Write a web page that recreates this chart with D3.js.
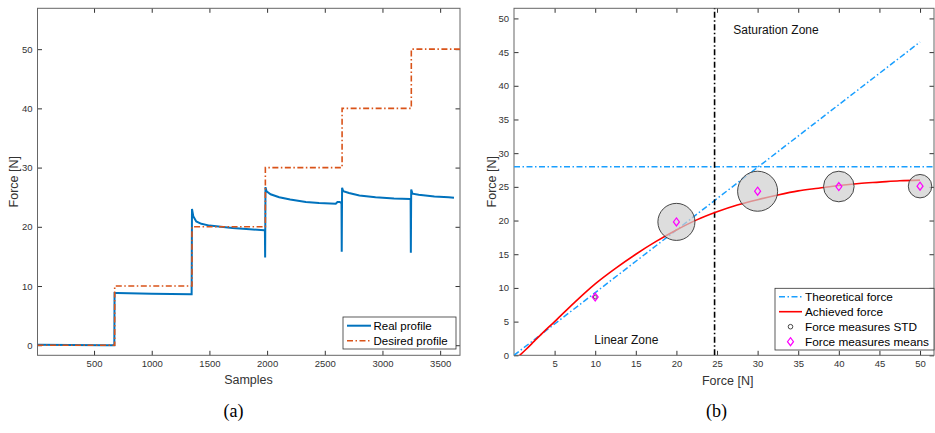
<!DOCTYPE html>
<html>
<head>
<meta charset="utf-8">
<script src="https://cdn.jsdelivr.net/npm/d3@7"></script>
<style>
  body { margin: 0; background: #fff; }
  svg { display: block; font-family: "Liberation Sans", Arial, sans-serif; }
  .tick text { fill: #333; font-size: 9.5px; }
</style>
</head>
<body>
<svg id="canvas" width="935" height="433"></svg>
<script>
// ---- (a) force profile over samples ----
const sampleTicks = [500, 1000, 1500, 2000, 2500, 3000, 3500];
const forceTicksA = [0, 10, 20, 30, 40, 50];

const desiredStart = [10, 679, 1349, 1985, 2650, 3250, 3672];
const desiredLevel = [0, 10, 20, 30, 40, 50, 50];

const realSample = [10, 300, 600, 676, 678, 700, 1000, 1340, 1346, 1349, 1360, 1386, 1430, 1501, 1600, 1700, 1850, 1975, 1981,
  1983, 1986, 1995, 2030, 2105, 2200, 2336, 2450, 2595, 2610, 2630, 2645, 2647, 2650, 2660, 2710, 2800, 2940, 3100, 3240, 3244,
  3246, 3249, 3260, 3314, 3450, 3573, 3620];
const realForce = [0.1, 0.05, 0.0, 0.0, 8.8, 8.8, 8.7, 8.6, 8.6, 23.0, 21.8, 20.9, 20.5, 20.2, 20.0, 19.8, 19.6, 19.4, 19.4,
  14.8, 26.7, 26.0, 25.5, 25.0, 24.6, 24.2, 24.0, 23.9, 24.2, 24.2, 24.0, 15.8, 26.6, 26.0, 25.7, 25.3, 25.0, 24.8, 24.7, 24.7,
  15.6, 26.3, 25.6, 25.4, 25.1, 25.0, 24.9];

// ---- (b) achieved vs desired force ----
const forceTicksBx = [5, 10, 15, 20, 25, 30, 35, 40, 45, 50];
const forceTicksBy = [0, 5, 10, 15, 20, 25, 30, 35, 40, 45, 50];

const theoreticalX = [0, 50];
const theoreticalY = [0, 46.5];
const saturationLevel = 28;
const zoneBoundary = 24.7;

const achievedX = [0.7, 1.5, 2.5, 3.5, 5, 7.5, 10, 12.5, 15, 17.5, 20, 22.5, 25, 27.5, 30, 32.5, 35, 37.5, 40, 42.5, 45, 47.5, 50];
const achievedY = [0, 0.9, 2.1, 3.3, 5.0, 7.9, 10.6, 12.9, 15.0, 16.9, 18.6, 20.1, 21.3, 22.3, 23.1, 23.8, 24.4, 24.8, 25.2, 25.5, 25.7, 25.9, 26.0];

const measureForce = [10, 20, 30, 40, 50];
const measureMean = [8.65, 19.8, 24.35, 25.05, 25.1];
const measureStd = [0.3, 2.75, 2.97, 2.27, 1.74];

const svg = d3.select("#canvas");
const dashDot = "6,2.5,1.5,2.5";
const fmt = d3.format("d");

function makeFrame(box, xDomain, yDomain, xTicks, yTicks) {
  const x = d3.scaleLinear().domain(xDomain).range([box.left, box.right]);
  const y = d3.scaleLinear().domain(yDomain).range([box.bottom, box.top]);
  const g = svg.append("g");
  const tk = 4.5;

  const add = (axis, tx, ty, labels) => {
    const a = g.append("g").attr("transform", `translate(${tx},${ty})`)
      .call(axis.tickFormat(fmt).tickSizeInner(-tk).tickSizeOuter(0).tickPadding(5));
    a.select(".domain").remove();
    a.selectAll(".tick line").attr("stroke", "#333");
    if (!labels) a.selectAll(".tick text").remove();
    return a;
  };
  add(d3.axisBottom(x).tickValues(xTicks), 0, box.bottom, true);
  add(d3.axisTop(x).tickValues(xTicks), 0, box.top, false);
  add(d3.axisLeft(y).tickValues(yTicks), box.left, 0, true);
  add(d3.axisRight(y).tickValues(yTicks), box.right, 0, false);

  const clipId = "clip" + Math.round(box.left);
  svg.append("clipPath").attr("id", clipId).append("rect")
    .attr("x", box.left).attr("y", box.top)
    .attr("width", box.right - box.left).attr("height", box.bottom - box.top);
  const plot = svg.append("g").attr("clip-path", `url(#${clipId})`);
  return { x, y, g, plot, box };
}

function drawSpine(f) {
  f.g.append("rect")
    .attr("x", f.box.left).attr("y", f.box.top)
    .attr("width", f.box.right - f.box.left).attr("height", f.box.bottom - f.box.top)
    .attr("fill", "none").attr("stroke", "#666").attr("stroke-width", 1);
}

// ===== chart (a) =====
const fa = makeFrame({ left: 37.5, right: 460, top: 8.3, bottom: 355.3 }, [10, 3672], [-1.7, 56.9], sampleTicks, forceTicksA);

fa.plot.append("path")
  .datum(realSample.map((s, i) => [s, realForce[i]]))
  .attr("fill", "none").attr("stroke", "#0072BD").attr("stroke-width", 2)
  .attr("d", d3.line().x(d => fa.x(d[0])).y(d => fa.y(d[1])));

fa.plot.append("path")
  .datum(desiredStart.map((s, i) => [s, desiredLevel[i]]))
  .attr("fill", "none").attr("stroke", "#D95319").attr("stroke-width", 1.6)
  .attr("stroke-dasharray", dashDot)
  .attr("d", d3.line().curve(d3.curveStepAfter).x(d => fa.x(d[0])).y(d => fa.y(d[1])));

drawSpine(fa);

svg.append("text").attr("x", 248.5).attr("y", 384).attr("text-anchor", "middle")
  .attr("font-size", 12.5).attr("fill", "#333").text("Samples");
svg.append("text").attr("transform", "translate(18,181.7) rotate(-90)").attr("text-anchor", "middle")
  .attr("font-size", 12.5).attr("fill", "#333").text("Force [N]");

const legA = svg.append("g");
legA.append("rect").attr("x", 343).attr("y", 317).attr("width", 113).attr("height", 32)
  .attr("fill", "#fff").attr("stroke", "#333").attr("stroke-width", 0.8);
[["Real profile", "#0072BD", null, 2], ["Desired profile", "#D95319", dashDot, 1.6]].forEach((d, i) => {
  const yy = 325.7 + i * 15;
  legA.append("line").attr("x1", 347).attr("x2", 371).attr("y1", yy).attr("y2", yy)
    .attr("stroke", d[1]).attr("stroke-width", d[3]).attr("stroke-dasharray", d[2]);
  legA.append("text").attr("x", 373.5).attr("y", yy + 4).attr("font-size", 11.5).attr("fill", "#000").text(d[0]);
});

// ===== chart (b) =====
const fb = makeFrame({ left: 514, right: 934, top: 8.3, bottom: 355.3 }, [0, 51.72], [0, 51.5], forceTicksBx, forceTicksBy);
const lightBlue = "#1a9fff";

fb.plot.append("line")
  .attr("x1", fb.x(0)).attr("x2", fb.x(51.72))
  .attr("y1", fb.y(saturationLevel)).attr("y2", fb.y(saturationLevel))
  .attr("stroke", lightBlue).attr("stroke-width", 1.5).attr("stroke-dasharray", dashDot);

fb.plot.append("path")
  .datum(theoreticalX.map((v, i) => [v, theoreticalY[i]]))
  .attr("fill", "none").attr("stroke", lightBlue).attr("stroke-width", 1.5)
  .attr("stroke-dasharray", dashDot)
  .attr("d", d3.line().x(d => fb.x(d[0])).y(d => fb.y(d[1])));

fb.plot.append("line")
  .attr("x1", fb.x(zoneBoundary)).attr("x2", fb.x(zoneBoundary))
  .attr("y1", fb.y(0)).attr("y2", fb.y(51.5))
  .attr("stroke", "#000").attr("stroke-width", 1.6).attr("stroke-dasharray", dashDot);

fb.plot.append("path")
  .datum(achievedX.map((v, i) => [v, achievedY[i]]))
  .attr("fill", "none").attr("stroke", "#ff0000").attr("stroke-width", 1.6)
  .attr("d", d3.line().curve(d3.curveMonotoneX).x(d => fb.x(d[0])).y(d => fb.y(d[1])));

const measures = measureForce.map((f, i) => ({ f, m: measureMean[i], s: measureStd[i] }));

fb.plot.selectAll(".std").data(measures).join("circle")
  .attr("class", "std")
  .attr("cx", d => fb.x(d.f)).attr("cy", d => fb.y(d.m))
  .attr("r", d => fb.y(0) - fb.y(d.s))
  .attr("fill", "#cfcfcf").attr("fill-opacity", 0.7)
  .attr("stroke", "#333").attr("stroke-width", 0.9);

const diamond = (cx, cy) => `M${cx},${cy - 4}L${cx + 3},${cy}L${cx},${cy + 4}L${cx - 3},${cy}Z`;
fb.plot.selectAll(".mean").data(measures).join("path")
  .attr("class", "mean")
  .attr("d", d => diamond(fb.x(d.f), fb.y(d.m)))
  .attr("fill", "none").attr("stroke", "#ff00ff").attr("stroke-width", 1.2);

drawSpine(fb);

svg.append("text").attr("x", 733.3).attr("y", 34).attr("font-size", 12).attr("fill", "#111").text("Saturation Zone");
svg.append("text").attr("x", 594.3).attr("y", 344).attr("font-size", 12).attr("fill", "#111").text("Linear Zone");

svg.append("text").attr("x", 727.7).attr("y", 385).attr("text-anchor", "middle")
  .attr("font-size", 12.5).attr("fill", "#333").text("Force [N]");
svg.append("text").attr("transform", "translate(496,181.7) rotate(-90)").attr("text-anchor", "middle")
  .attr("font-size", 12.5).attr("fill", "#333").text("Force [N]");

const legB = svg.append("g");
legB.append("rect").attr("x", 775).attr("y", 288.3).attr("width", 159).attr("height", 61.7)
  .attr("fill", "#fff").attr("stroke", "#333").attr("stroke-width", 0.8);
const legItems = ["Theoretical force", "Achieved force", "Force measures STD", "Force measures means"];
legItems.forEach((t, i) => {
  const yy = 296.7 + i * 15;
  if (i === 0) {
    legB.append("line").attr("x1", 779).attr("x2", 802).attr("y1", yy).attr("y2", yy)
      .attr("stroke", lightBlue).attr("stroke-width", 1.5).attr("stroke-dasharray", dashDot);
  } else if (i === 1) {
    legB.append("line").attr("x1", 779).attr("x2", 802).attr("y1", yy).attr("y2", yy)
      .attr("stroke", "#ff0000").attr("stroke-width", 1.6);
  } else if (i === 2) {
    legB.append("circle").attr("cx", 790.5).attr("cy", yy).attr("r", 2.3)
      .attr("fill", "none").attr("stroke", "#333").attr("stroke-width", 0.9);
  } else {
    legB.append("path").attr("d", diamond(790.5, yy))
      .attr("fill", "none").attr("stroke", "#ff00ff").attr("stroke-width", 1.2);
  }
  legB.append("text").attr("x", 805).attr("y", yy + 4.2).attr("font-size", 11.8).attr("fill", "#000").text(t);
});

// captions
svg.append("text").attr("x", 233.5).attr("y", 417).attr("text-anchor", "middle")
  .attr("font-family", "'Liberation Serif', 'DejaVu Serif', serif").attr("font-size", 18).text("(a)");
svg.append("text").attr("x", 716.5).attr("y", 417).attr("text-anchor", "middle")
  .attr("font-family", "'Liberation Serif', 'DejaVu Serif', serif").attr("font-size", 18).text("(b)");
</script>
</body>
</html>
